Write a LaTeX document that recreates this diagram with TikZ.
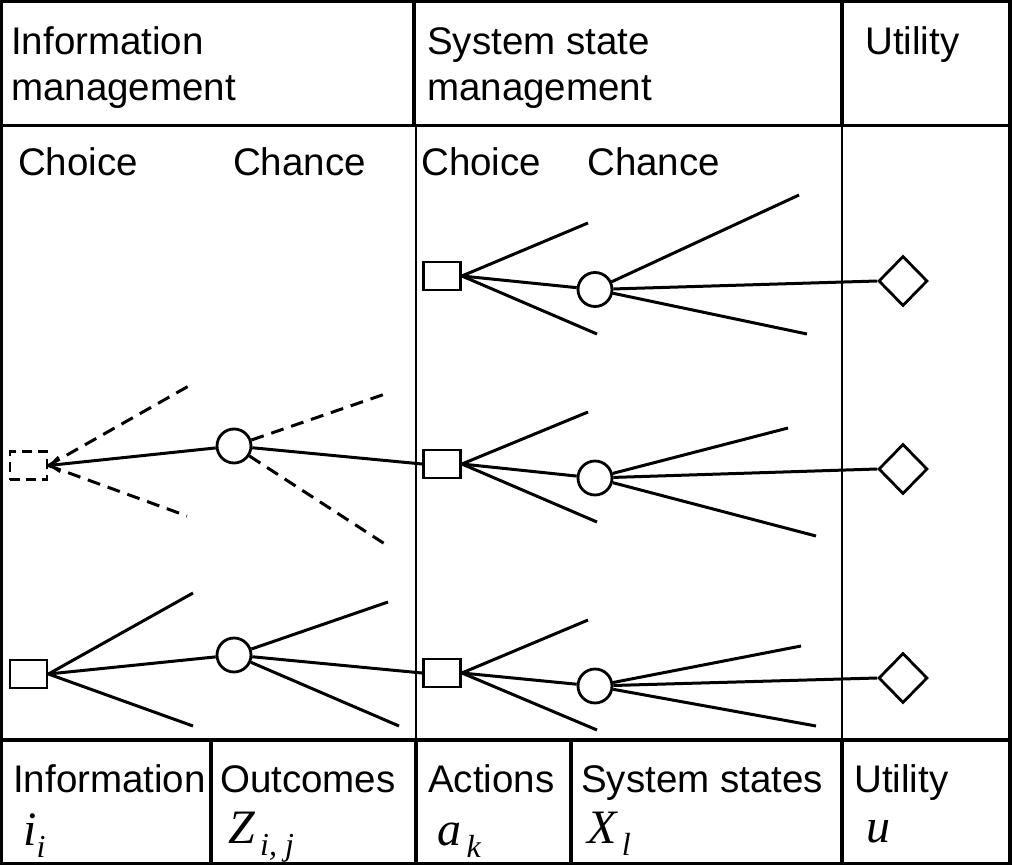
\documentclass[tikz,border=0pt]{standalone}
\usepackage{fontspec}
\setmainfont{Liberation Sans}
\newfontfamily\symfont{Liberation Serif}
\usetikzlibrary{shapes.geometric,arrows.meta}

% italic variable with a subscript, as in Z_{i,j}
\newcommand\varsym[2]{{\symfont\itshape\fontsize{48}{48}\selectfont #1\raisebox{-12pt}{\fontsize{32}{32}\selectfont #2}}}

\tikzset{
  frame/.style={line width=3.2pt},
  divider/.style={line width=1.6pt},
  choicebox/.style={draw, rectangle, line width=2.8pt, minimum width=37pt, minimum height=28pt, inner sep=0pt},
  chancenode/.style={draw, circle, line width=2.8pt, minimum size=34pt, inner sep=0pt},
  utilnode/.style={draw, diamond, aspect=1, line width=2.8pt, minimum width=49pt, minimum height=50pt, inner sep=0pt},
  branch/.style={line width=3pt},
  dashbranch/.style={branch, dash pattern=on 13pt off 8pt},
  txt/.style={inner sep=0pt, anchor=base west, font=\fontsize{38.5}{38.5}\selectfont},
  symtxt/.style={inner sep=0pt, anchor=base west}
}

\begin{document}
\begin{tikzpicture}[x=1pt, y=-1pt]
\useasboundingbox (0,0) rectangle (1013,865);

% table frame
\draw[frame] (1.6,1.6) rectangle (1010,863.4);
\draw[frame] (0,125.5) -- (1011,125.5);
\draw[frame] (0,740) -- (1011,740);
\draw[frame] (414,0) -- (414,125.5);
\draw[frame] (842,0) -- (842,125.5);
\draw[divider] (416,125.5) -- (416,740);
\draw[divider] (842,125.5) -- (842,740);
\draw[frame] (211,740) -- (211,865);
\draw[frame] (416,740) -- (416,865);
\draw[frame] (571,740) -- (571,865);
\draw[frame] (842,740) -- (842,865);

% column headings
\node[txt] (h1a) at (11,54.5) {Information};
\node[txt] (h1b) at (11,100) {management};
\node[txt] (h2a) at (427,54.5) {System state};
\node[txt] (h2b) at (427,100) {management};
\node[txt] (h3) at (865,54.5) {Utility};

\node[txt] (k1) at (18,175) {Choice};
\node[txt] (k2) at (233,175) {Chance};
\node[txt] (k3) at (421,175) {Choice};
\node[txt] (k4) at (587,175) {Chance};

% bottom legend
\node[txt] (b1) at (13,792) {Information};
\node[txt] (b2) at (220,792) {Outcomes};
\node[txt] (b3) at (428,792) {Actions};
\node[txt] (b4) at (581,792) {System states};
\node[txt] (b5) at (854,792) {Utility};

\node[symtxt] (v1) at (23,845) {\varsym{i}{i}};
\node[symtxt] (v2) at (228,843) {\varsym{Z}{\,i, j}};
\node[symtxt] (v3) at (437,845) {\varsym{a}{\,k}};
\node[symtxt] (v4) at (587,843) {\varsym{X}{\,l}};
\node[symtxt] (v5) at (866,842) {\varsym{u}{}};

% decision nodes
\node[choicebox, dashed, dash pattern=on 10pt off 6pt] (D) at (28.5,465.5) {};
\node[choicebox] (B) at (28.5,674) {};
\node[chancenode] (Cm) at (234,446) {};
\node[chancenode] (Cb) at (234,655) {};
\node[choicebox] (S1) at (442,276) {};
\node[choicebox] (S2) at (442,464) {};
\node[choicebox] (S3) at (442,673) {};
\node[chancenode] (C1) at (595,289.5) {};
\node[chancenode] (C2) at (595,478) {};
\node[chancenode] (C3) at (595,686) {};
\node[utilnode] (U1) at (903,281) {};
\node[utilnode] (U2) at (903,469) {};
\node[utilnode] (U3) at (903,678) {};

% free ends of the branches
\coordinate (d1) at (194,383);   \coordinate (d2) at (187,516);
\coordinate (m1) at (388,393);   \coordinate (m2) at (388,546);
\coordinate (b1u) at (193,593);  \coordinate (b1d) at (193,726);
\coordinate (b2u) at (388,602);  \coordinate (b2d) at (399,726);
\coordinate (s1u) at (588,223);  \coordinate (s1d) at (597,334);
\coordinate (s2u) at (588,412);  \coordinate (s2d) at (597,522);
\coordinate (s3u) at (588,620);  \coordinate (s3d) at (597,730);
\coordinate (c1u) at (799,195);  \coordinate (c1d) at (807,334);
\coordinate (c2u) at (788,428);  \coordinate (c2d) at (816,536);
\coordinate (c3u) at (801,646);  \coordinate (c3d) at (816,726);

% information branch (dashed) with the arrow back to the choice
\draw[dashbranch] (D.east) -- (d1);
\draw[dashbranch] (D.east) -- (d2);
\draw[branch, -{Straight Barb[length=9pt, width=15pt, line width=2.6pt]}] (Cm) -- (D.east);
\draw[dashbranch] (Cm) -- (m1);
\draw[dashbranch] (Cm) -- (m2);
\draw[branch] (Cm) -- (S2.west);

% information branch (solid)
\draw[branch] (B.east) -- (b1u);
\draw[branch] (B.east) -- (b1d);
\draw[branch] (B.east) -- (Cb);
\draw[branch] (Cb) -- (b2u);
\draw[branch] (Cb) -- (b2d);
\draw[branch] (Cb) -- (S3.west);

% actions and system states
\foreach \s/\c/\u in {1/1/1, 2/2/2, 3/3/3} {
  \draw[branch] (S\s.east) -- (s\s u);
  \draw[branch] (S\s.east) -- (s\s d);
  \draw[branch] (S\s.east) -- (C\c);
  \draw[branch] (C\c) -- (c\c u);
  \draw[branch] (C\c) -- (c\c d);
  \draw[branch] (C\c) -- (U\u.west);
}
\end{tikzpicture}
\end{document}
